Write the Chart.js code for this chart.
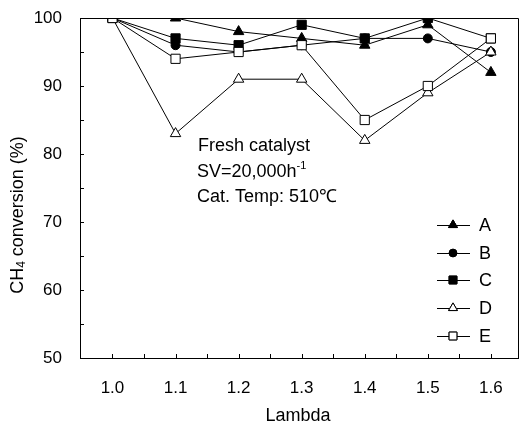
<!DOCTYPE html>
<html>
<head>
<meta charset="utf-8">
<script src="https://cdn.jsdelivr.net/npm/chart.js@4/dist/chart.umd.min.js"></script>
<style>
  body { margin: 0; background: #fff; }
  #c { display: block; }
</style>
</head>
<body>
<canvas id="c" width="522" height="424"></canvas>
<script>
// dữ liệu
const lambdas = [1.0, 1.1, 1.2, 1.3, 1.4, 1.5, 1.6];
const seriesA = [100, 100, 98, 97, 96, 99, 92];
const seriesB = [100, 96, 95, 96, 97, 97, 95];
const seriesC = [100, 97, 96, 99, 97, 100, 97];
const seriesD = [100, 83, 91, 91, 82, 89, 95];
const seriesE = [100, 94, 95, 96, 85, 90, 97];
const seriesNames = ['A', 'B', 'C', 'D', 'E'];
const xTicks = [1.0, 1.1, 1.2, 1.3, 1.4, 1.5, 1.6];
const yTicks = [50, 60, 70, 80, 90, 100];

const FONT = '"Liberation Sans", Arial, sans-serif';

function toPoints(vals) {
    return vals.map((v, i) => ({ x: lambdas[i], y: v }));
}

const styles = [
    { pointStyle: 'triangle', bg: '#000', r: 6 },
    { pointStyle: 'circle', bg: '#000', r: 4.5 },
    { pointStyle: 'rect', bg: '#000', r: 6.5 },
    { pointStyle: 'triangle', bg: '#fff', r: 6 },
    { pointStyle: 'rect', bg: '#fff', r: 6.5 }
];
const allSeries = [seriesA, seriesB, seriesC, seriesD, seriesE];

const datasets = allSeries.map((s, i) => ({
    label: seriesNames[i],
    data: toPoints(s),
    borderColor: '#000',
    borderWidth: 1,
    pointStyle: styles[i].pointStyle,
    pointRadius: styles[i].r,
    pointBackgroundColor: styles[i].bg,
    pointBorderColor: '#000',
    pointBorderWidth: 1,
    order: 4 - i,
    tension: 0,
    fill: false
}));

// vẽ khung, vạch chia hướng vào trong, chú thích và chữ
const decor = {
    id: 'decor',
    afterDraw(chart) {
        const ctx = chart.ctx;
        const a = chart.chartArea;
        const xs = chart.scales.x, ys = chart.scales.y;
        ctx.save();
        ctx.strokeStyle = '#000';
        ctx.lineWidth = 1;
        // khung trên và phải
        ctx.beginPath();
        ctx.moveTo(a.left, a.top + 0.5);
        ctx.lineTo(a.right + 0.5, a.top + 0.5);
        ctx.lineTo(a.right + 0.5, a.bottom);
        ctx.stroke();
        // vạch chia trục y
        ctx.beginPath();
        for (let v = 50; v <= 100; v += 5) {
            const py = Math.round(ys.getPixelForValue(v)) + 0.5;
            ctx.moveTo(a.left, py);
            ctx.lineTo(a.left + 4, py);
        }
        // vạch chia trục x
        for (let k = 0; k <= 12; k++) {
            const px = Math.round(xs.getPixelForValue(1.0 + k * 0.05)) + 0.5;
            ctx.moveTo(px, a.bottom);
            ctx.lineTo(px, a.bottom - 4);
        }
        ctx.stroke();

        ctx.fillStyle = '#000';
        // ghi chú
        ctx.font = '18px ' + FONT;
        ctx.textBaseline = 'alphabetic';
        ctx.textAlign = 'left';
        ctx.fillText('Fresh catalyst', 198, 151);
        ctx.fillText('SV=20,000h', 197, 177);
        const w = ctx.measureText('SV=20,000h').width;
        ctx.font = '11px ' + FONT;
        ctx.fillText('-1', 197 + w, 169);
        ctx.font = '18px ' + FONT;
        ctx.fillText('Cat. Temp: 510\u2103', 197, 202);

        // chú giải
        const legY = [225, 253, 280, 308, 336];
        ctx.textBaseline = 'middle';
        chart.data.datasets.forEach((ds, i) => {
            const y = legY[i];
            ctx.beginPath();
            ctx.moveTo(437, y + 0.5);
            ctx.lineTo(470, y + 0.5);
            ctx.stroke();
            ctx.fillStyle = ds.pointBackgroundColor;
            Chart.helpers.drawPoint(ctx, {
                pointStyle: ds.pointStyle,
                radius: ds.pointRadius * 0.85,
                rotation: 0,
                borderWidth: 1
            }, 453, y);
            ctx.fill();
            ctx.stroke();
            ctx.fillStyle = '#000';
            ctx.font = '18px ' + FONT;
            ctx.textAlign = 'left';
            ctx.fillText(ds.label, 479, y + 1);
        });

        // tiêu đề trục x
        ctx.font = '18px ' + FONT;
        ctx.textAlign = 'center';
        ctx.fillText('Lambda', 298, 416);

        // tiêu đề trục y
        ctx.translate(18, 215);
        ctx.rotate(-Math.PI / 2);
        ctx.font = '18px ' + FONT;
        const p1 = 'CH', p2 = '4', p3 = ' conversion (%)';
        const w1 = ctx.measureText(p1).width;
        const w3 = ctx.measureText(p3).width;
        ctx.font = '12px ' + FONT;
        const w2 = ctx.measureText(p2).width;
        let x0 = -(w1 + w2 + w3) / 2;
        ctx.textAlign = 'left';
        ctx.font = '18px ' + FONT;
        ctx.fillText(p1, x0, 0);
        ctx.font = '12px ' + FONT;
        ctx.fillText(p2, x0 + w1, 4);
        ctx.font = '18px ' + FONT;
        ctx.fillText(p3, x0 + w1 + w2, 0);
        ctx.restore();
    }
};

const chart = new Chart(document.getElementById('c').getContext('2d'), {
    type: 'line',
    data: { datasets: datasets },
    plugins: [decor],
    options: {
        responsive: false,
        animation: false,
        layout: { autoPadding: false, padding: { top: 18, right: 4, left: 0, bottom: 0 } },
        plugins: { legend: { display: false }, tooltip: { enabled: false } },
        scales: {
            x: {
                type: 'linear',
                min: 0.9485,
                max: 1.643,
                grid: { display: false, drawTicks: false },
                border: { display: true, color: '#000', width: 1 },
                afterBuildTicks: s => { s.ticks = xTicks.map(v => ({ value: v })); },
                afterFit: s => { s.height = 66; s.paddingLeft = 0; s.paddingRight = 0; },
                ticks: {
                    color: '#000',
                    padding: 20,
                    maxRotation: 0,
                    font: { size: 17, family: FONT },
                    callback: v => v.toFixed(1)
                }
            },
            y: {
                min: 50,
                max: 100,
                grid: { display: false, drawTicks: false },
                border: { display: true, color: '#000', width: 1 },
                afterBuildTicks: s => { s.ticks = yTicks.map(v => ({ value: v })); },
                afterFit: s => { s.width = 80; s.paddingTop = 0; s.paddingBottom = 0; },
                ticks: {
                    color: '#000',
                    padding: 18,
                    font: { size: 17, family: FONT }
                }
            }
        }
    }
});
</script>
</body>
</html>
